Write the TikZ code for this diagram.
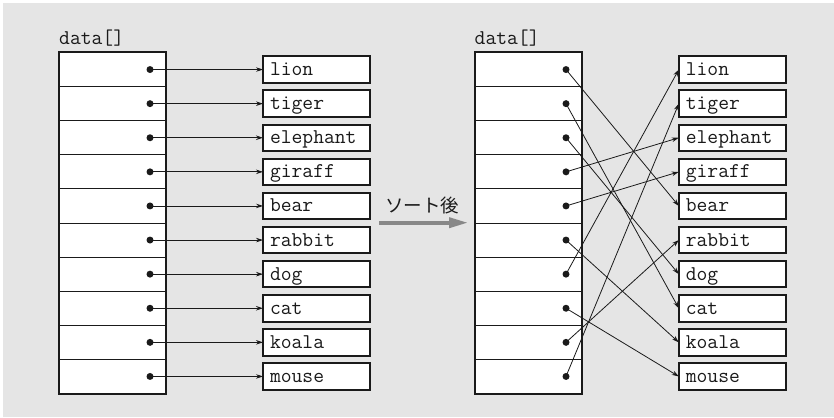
\documentclass[tikz,border=0pt]{standalone}
\usepackage{fontspec}
\newfontfamily\jpfont{Noto Sans CJK JP}
\usetikzlibrary{arrows.meta}

\definecolor{panel}{HTML}{E5E5E5}
\definecolor{ink}{HTML}{1A1A1A}
\definecolor{sortarrow}{HTML}{888888}

\tikzset{
  cell/.style={draw=ink, line width=0.9pt, fill=white, minimum width=107pt,
    minimum height=34.1pt, inner sep=0pt, outer sep=0pt},
  valbox/.style={draw=ink, line width=2pt, fill=white, inner xsep=7pt, inner ysep=0pt,
    text width=93pt, align=left, minimum height=26.5pt, text height=13pt, text depth=1pt,
    font=\fontsize{21}{22}\selectfont\ttfamily, text=ink, outer sep=0pt},
  arrlabel/.style={anchor=base west, inner sep=0pt, font=\fontsize{21}{22}\selectfont\ttfamily, text=ink},
  ptr/.style={draw=ink, line width=0.8pt, -{Stealth[length=7pt,width=4.5pt]}},
  dot/.style={fill=ink},
}

\begin{document}
\begin{tikzpicture}[x=1pt, y=-1pt]
  \useasboundingbox (0,0) rectangle (834,417);
  \fill[panel] (3,3) rectangle (834,417);

  % array captions
  \node[arrlabel] (capL) at (59,45) {data[]};
  \node[arrlabel] (capR) at (474.5,45) {data[]};

  % the two pointer arrays
  \foreach \i in {0,...,9} {
    \node[cell] (a\i) at (112.5, {69.55+34.1*\i}) {};
    \node[cell] (b\i) at (528.2, {69.55+34.1*\i}) {};
    \coordinate (pa\i) at (150, {69.55+34.1*\i});
    \coordinate (pb\i) at (566, {69.55+34.1*\i});
  }
  \draw[ink, line width=2pt] (a0.north west) rectangle (a9.south east);
  \draw[ink, line width=2pt] (b0.north west) rectangle (b9.south east);

  % string objects (same order on both sides)
  \foreach \i/\w in {0/lion,1/tiger,2/elephant,3/giraff,4/bear,5/rabbit,6/dog,7/cat,8/koala,9/mouse} {
    \node[valbox] (s\i) at (316.5, {69.55+34.1*\i}) {\w};
    \node[valbox] (t\i) at (732.3, {69.55+34.1*\i}) {\w};
  }

  % before sorting: row i points to string i
  \foreach \i in {0,...,9} {
    \draw[ptr] (pa\i) -- (s\i.west);
    \fill[dot] (pa\i) circle (3.5);
  }

  % after sorting: rows point to the strings in alphabetical order
  \foreach \i/\j in {0/4,1/7,2/6,3/2,4/3,5/8,6/0,7/9,8/5,9/1} {
    \draw[ptr] (pb\i) -- (t\j.west);
    \fill[dot] (pb\i) circle (3.5);
  }

  % sort step
  \coordinate (sortA) at (379,222.7);
  \coordinate (sortB) at (468,222.7);
  \draw[sortarrow, line width=3.6pt, -{Triangle[length=19pt,width=10pt]}] (sortA) -- (sortB);
  \node[inner sep=0pt, anchor=base, font=\fontsize{18.5}{20}\selectfont\jpfont, text=ink]
    (sortlbl) at (422,212) {ソート後};
\end{tikzpicture}
\end{document}
